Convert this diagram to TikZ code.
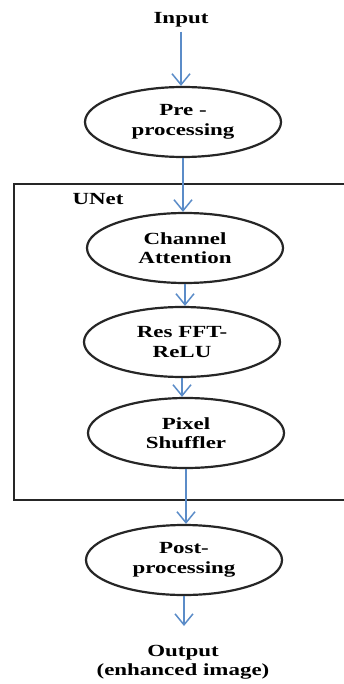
\documentclass[tikz,border=0pt]{standalone}
\usepackage{fontspec}
\setmainfont{Liberation Serif}[FakeStretch=1.35]
\usetikzlibrary{shapes.geometric,arrows.meta}
\definecolor{flowblue}{HTML}{5B8CC8}
\definecolor{edge}{HTML}{262626}
\tikzset{
  lbl/.style={font=\bfseries\fontsize{17}{19.5}\selectfont, align=center, text=black},
  stage/.style={ellipse, draw=edge, line width=2.2pt, minimum width=196pt,
                minimum height=70pt, inner sep=0pt, lbl},
  arr/.style={draw=flowblue, line width=1.5pt,
              -{Straight Barb[length=11pt,width=18pt,line width=1.5pt]}},
  frame/.style={draw=edge, line width=2.8pt}
}
\begin{document}
\begin{tikzpicture}[x=1pt,y=-1pt]
  \useasboundingbox (0,0) rectangle (344,684);
  % UNet block (its right side runs past the page edge)
  \draw[frame] (14,184) rectangle (380,500);
  \node[lbl, anchor=west] (unetlbl) at (69,199) {UNet};

  \node[lbl, inner sep=4pt] (input) at (181,20) {Input};
  \node[stage] (pre)  at (183,122) {Pre -\\processing};
  \node[stage] (ca)   at (185,248) {Channel\\Attention};
  \node[stage] (res)  at (182,342) {Res FFT-\\ReLU};
  \node[stage] (pix)  at (186,433) {Pixel\\Shuffler};
  \node[stage] (post) at (184,560) {Post-\\processing};
  \node[lbl, anchor=north, inner sep=3pt] (output) at (183,642)
       {Output\\(enhanced image)};

  \draw[arr] (input.south) -- (input.south |- pre.north);
  \draw[arr] (pre.south) -- (pre.south |- ca.north);
  \draw[arr] (ca.south) -- (ca.south |- res.north);
  \draw[arr] (res.south) -- (res.south |- pix.north);
  \draw[arr] (pix.south) -- (pix.south |- post.north);
  \draw[arr, shorten >=16pt] (post.south) -- (post.south |- output.north);
\end{tikzpicture}
\end{document}
